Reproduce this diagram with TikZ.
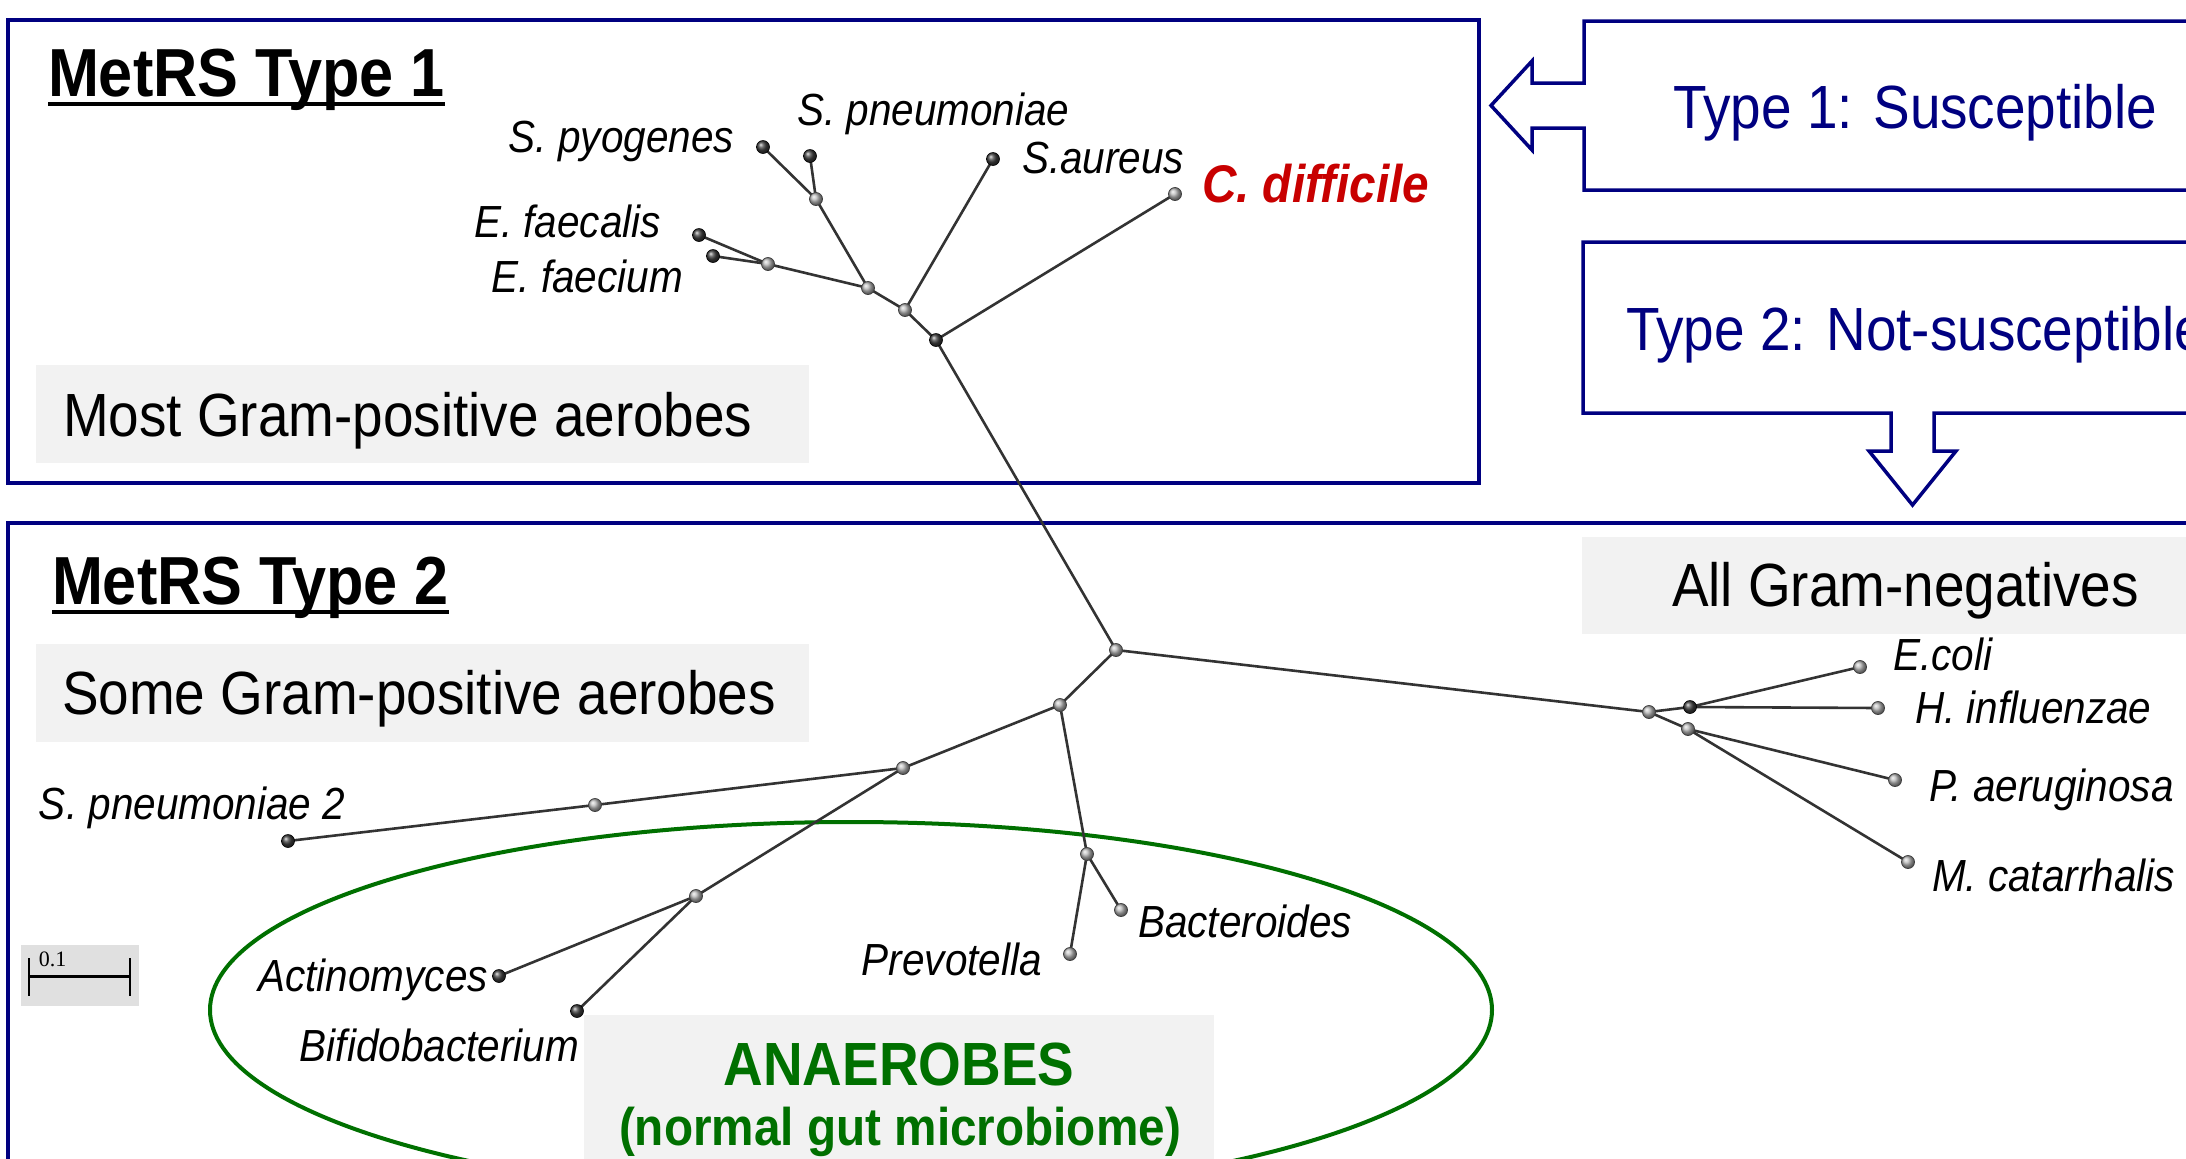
\documentclass[tikz,border=0pt]{standalone}
\usepackage{fontspec}
\setmainfont{Liberation Sans}
\newfontfamily\barfont{Liberation Serif}
\usepackage{graphicx}
\definecolor{navy}{RGB}{0,0,128}
\definecolor{cdred}{RGB}{200,0,0}
\definecolor{anagreen}{RGB}{0,112,0}
\definecolor{boxgray}{RGB}{242,242,242}
\newcommand\cnd[1]{\scalebox{0.9}[1]{#1}}
\begin{document}
\begin{tikzpicture}[x=0.5pt,y=-0.5pt,
  txt/.style={inner sep=0pt,outer sep=0pt},
  species/.style={txt,font=\fontsize{22.5pt}{27pt}\selectfont\itshape},
  bigtxt/.style={txt,font=\fontsize{30.5pt}{36pt}\selectfont},
  ttl/.style={txt,font=\fontsize{34pt}{40pt}\selectfont\bfseries},
  frm/.style={draw=navy,line width=1.75pt},
  branch/.style={draw=black!80,line width=1.3pt},
  ballD/.style={circle,inner sep=0pt,minimum size=6.5pt,ball color=black!75,draw=black,line width=0.3pt},
  ballG/.style={circle,inner sep=0pt,minimum size=6.5pt,ball color=gray!55,draw=black!75,line width=0.4pt},
]
\useasboundingbox (0,0) rectangle (2186,1158);
\clip (0,0) rectangle (2186,1158);
\fill[white] (0,0) rectangle (2186,1158);

% frames
\draw[frm] (8,20) rectangle (1479,483);
\draw[frm] (8,523) rectangle (2300,1300);
\draw[frm,fill=white] (2220,21) -- (1584,21) -- (1584,83) -- (1532,83) -- (1532,61) -- (1491,105.5) -- (1532,150) -- (1532,128) -- (1584,128) -- (1584,190) -- (2220,190);
\draw[frm,fill=white] (2220,242) -- (1583,242) -- (1583,413) -- (1891,413) -- (1891,451) -- (1869,451) -- (1912.5,505) -- (1956,451) -- (1934,451) -- (1934,413) -- (2220,413);

% gray boxes
\fill[boxgray] (36,365) rectangle (809,463);
\fill[boxgray] (36,644) rectangle (809,742);
\fill[boxgray] (1582,537) rectangle (2220,634);
\fill[boxgray] (584,1015) rectangle (1214,1200);

% ellipse
\draw[anagreen,line width=2pt] (851,1010) ellipse [x radius=641, y radius=188];

% tree coordinates
\coordinate (spy) at (763,147);
\coordinate (spn) at (810,156);
\coordinate (j1) at (816,199);
\coordinate (ssa) at (993,159);
\coordinate (cdf) at (1175,194);
\coordinate (efl) at (699,235);
\coordinate (efm) at (713,256);
\coordinate (j2) at (768,264);
\coordinate (j3) at (868,288);
\coordinate (j4) at (905,310);
\coordinate (j5) at (936,340);
\coordinate (root) at (1116,650);
\coordinate (j6) at (1060,705);
\coordinate (j7) at (903,768);
\coordinate (j8) at (595,805);
\coordinate (spn2) at (288,841);
\coordinate (j9) at (696,896);
\coordinate (act) at (499,976);
\coordinate (bif) at (577,1011);
\coordinate (j10) at (1087,854);
\coordinate (bac) at (1121,910);
\coordinate (pre) at (1070,954);
\coordinate (g0) at (1649,712);
\coordinate (g1) at (1690,707);
\coordinate (g2) at (1688,729);
\coordinate (eco) at (1860,667);
\coordinate (hin) at (1878,708);
\coordinate (pae) at (1895,780);
\coordinate (mca) at (1908,862);

% branches
\draw[branch] (spy) -- (j1);
\draw[branch] (spn) -- (j1);
\draw[branch] (j1) -- (j3);
\draw[branch] (efl) -- (j2);
\draw[branch] (efm) -- (j2);
\draw[branch] (j2) -- (j3);
\draw[branch] (j3) -- (j4);
\draw[branch] (ssa) -- (j4);
\draw[branch] (j4) -- (j5);
\draw[branch] (cdf) -- (j5);
\draw[branch] (j5) -- (root);
\draw[branch] (root) -- (j6);
\draw[branch] (j6) -- (j7);
\draw[branch] (j7) -- (j8);
\draw[branch] (j8) -- (spn2);
\draw[branch] (j7) -- (j9);
\draw[branch] (j9) -- (act);
\draw[branch] (j9) -- (bif);
\draw[branch] (j6) -- (j10);
\draw[branch] (j10) -- (bac);
\draw[branch] (j10) -- (pre);
\draw[branch] (root) -- (g0);
\draw[branch] (g0) -- (g1);
\draw[branch] (g0) -- (g2);
\draw[branch] (g1) -- (eco);
\draw[branch] (g1) -- (hin);
\draw[branch] (g2) -- (pae);
\draw[branch] (g2) -- (mca);

% balls
\foreach \p in {spy,spn,ssa,efl,efm,j5,spn2,act,bif,g1}
  \node[ballD] at (\p) {};
\foreach \p in {j1,j2,j3,j4,root,j6,j7,j8,j9,j10,bac,pre,g0,g2,eco,hin,pae,mca,cdf}
  \node[ballG] at (\p) {};

% titles
\node[ttl,anchor=base west] (t1) at (48,96) {\cnd{MetRS Type 1}};
\draw[line width=2.25pt] ([yshift=-4pt]t1.base west) -- ([yshift=-4pt]t1.base east);
\node[ttl,anchor=base west] (t2) at (52,604) {\cnd{MetRS Type 2}};
\draw[line width=2.25pt] ([yshift=-4pt]t2.base west) -- ([yshift=-4pt]t2.base east);

% big texts
\node[bigtxt,anchor=base west] (most) at (63,436) {\cnd{Most Gram-positive aerobes}};
\node[bigtxt,anchor=base west] (some) at (62,714) {\cnd{Some Gram-positive aerobes}};
\node[bigtxt,anchor=base west] (allgn) at (1672,606) {\cnd{All Gram-negatives}};
\node[bigtxt,anchor=base west,text=navy] (ty1) at (1673,128) {\cnd{Type 1: Susceptible}};
\node[bigtxt,anchor=base west,text=navy] (ty2) at (1626,350) {\cnd{Type 2: Not-susceptible}};
\node[txt,anchor=base,font=\fontsize{30.5pt}{36pt}\selectfont\bfseries,text=anagreen] (ana) at (899,1085) {\cnd{ANAEROBES}};
\node[txt,anchor=base,font=\fontsize{26.5pt}{32pt}\selectfont\bfseries,text=anagreen] (gut) at (900,1145) {\cnd{(normal gut microbiome)}};

% species labels
\node[species,anchor=base east] (lspy) at (734,152) {\cnd{S. pyogenes}};
\node[species,anchor=base west] (lspn) at (797,125) {\cnd{S. pneumoniae}};
\node[species,anchor=base west] (lssa) at (1022,173) {\cnd{S.aureus}};
\node[txt,anchor=base west,font=\fontsize{26.5pt}{32pt}\selectfont\bfseries\itshape,text=cdred] (lcdf) at (1202,202) {\cnd{C. difficile}};
\node[species,anchor=base east] (lefl) at (661,237) {\cnd{E. faecalis}};
\node[species,anchor=base east] (lefm) at (683,292) {\cnd{E. faecium}};
\node[species,anchor=base west] (lspn2) at (39,819) {\cnd{S. pneumoniae 2}};
\node[species,anchor=base east] (lact) at (488,991) {\cnd{Actinomyces}};
\node[species,anchor=base east] (lbif) at (579,1061) {\cnd{Bifidobacterium}};
\node[species,anchor=base east] (lpre) at (1042,975) {\cnd{Prevotella}};
\node[species,anchor=base west] (lbac) at (1138,937) {\cnd{Bacteroides}};
\node[species,anchor=base west] (leco) at (1893,670) {\cnd{E.coli}};
\node[species,anchor=base west] (lhin) at (1915,723) {\cnd{H. influenzae}};
\node[species,anchor=base west] (lpae) at (1929,801) {\cnd{P. aeruginosa}};
\node[species,anchor=base west] (lmca) at (1932,891) {\cnd{M. catarrhalis}};

% scale bar
\fill[black!12] (21,945) rectangle (139,1006);
\draw[line width=1.5pt] (29,976) -- (130,976);
\draw[line width=1pt] (29,958) -- (29,996);
\draw[line width=1pt] (130,958) -- (130,996);
\node[txt,anchor=base west,font=\barfont\fontsize{11pt}{13pt}\selectfont] (sb) at (39,966) {0.1};
\end{tikzpicture}
\end{document}
